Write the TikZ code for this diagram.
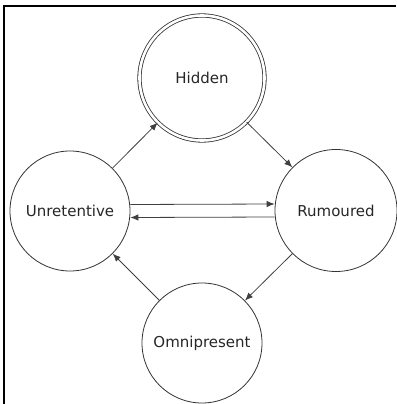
\documentclass[tikz,border=0pt]{standalone}
\usepackage{fontspec}
\setmainfont{DejaVu Sans}
\usetikzlibrary{arrows.meta}
\tikzstyle{state} = [circle, minimum size=120pt, inner sep=0pt, draw=black!80, line width=0.8pt, text=black!85, font=\fontsize{15}{18}\selectfont]
\tikzstyle{accept} = [state, double, double distance=2.6pt, minimum size=125pt]
\tikzstyle{arrow} = [line width=0.8pt, draw=black!75, -{Latex[length=8pt,width=6.5pt]}]

\begin{document}
\begin{tikzpicture}[x=1pt, y=1pt]
        \useasboundingbox (0,0) rectangle (396,-404);
        \draw [line width=2pt] (4,-404) -- (4,-6.5) -- (396,-6.5);

        \node (hidden) [accept] at (202,-78) {Hidden};
        \node (unret) [state] at (70,-211) {Unretentive};
        \node (rumour) [state, minimum size=122pt] at (336,-210.5) {Rumoured};
        \node (omni) [state] at (202,-343) {Omnipresent};

        \draw [arrow] (unret) -- (hidden);
        \draw [arrow] (hidden) -- (rumour);
        \draw [arrow] (rumour) -- (omni);
        \draw [arrow] (omni) -- (unret);
        \draw [arrow] ([yshift=6.5pt]unret.east) -- ([yshift=6.5pt]rumour.west);
        \draw [arrow] ([yshift=-6.5pt]rumour.west) -- ([yshift=-6.5pt]unret.east);
\end{tikzpicture}
\end{document}
